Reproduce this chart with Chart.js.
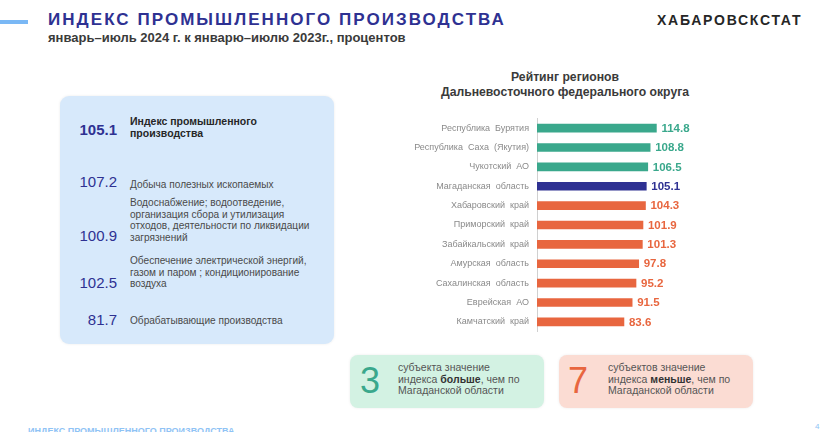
<!DOCTYPE html>
<html>
<head>
<meta charset="utf-8">
<script src="https://cdn.jsdelivr.net/npm/chart.js@4"></script>
<style>
  body { margin: 0; width: 832px; height: 432px; background: #fff; position: relative; overflow: hidden; font-family: "Liberation Sans", Arial, sans-serif; }
  .abs { position: absolute; white-space: nowrap; }
  .bar { left: 0; top: 20px; width: 28px; height: 4px; background: #7ab8f5; }
  .title { left: 48px; top: 10px; font-size: 17px; font-weight: bold; color: #2e3192; letter-spacing: 2.05px; }
  .subtitle { left: 48px; top: 30px; font-size: 13px; font-weight: bold; color: #3a3a3a; }
  .brand { left: 657px; top: 12px; font-size: 14px; font-weight: bold; color: #262626; letter-spacing: 1.75px; }
  .chartTitle { left: 400px; width: 330px; text-align: center; font-size: 12.2px; font-weight: bold; color: #3a3a3a; }
  .panel { left: 60px; top: 96px; width: 274px; height: 248px; background: #d7e9fb; border-radius: 9px; box-shadow: 0 0 3px rgba(0,0,0,0.08); }
  .num { width: 60px; left: 57px; text-align: right; font-size: 15px; color: #2e3192; }
  .desc { left: 130px; font-size: 10.1px; color: #4a4a4a; line-height: 11.7px; }
  .box { top: 355px; width: 194px; height: 53px; border-radius: 8px; box-shadow: 0 0 3px rgba(0,0,0,0.08); }
  .big { font-size: 36px; top: 360px; }
  .boxText { top: 362px; font-size: 10.5px; color: #555; line-height: 11.7px; }
  .footer { left: 28px; top: 426px; font-size: 9px; font-weight: bold; color: #8fc3f5; }
  #chartBox { position: absolute; left: 400px; top: 105px; width: 345px; height: 240px; }
</style>
</head>
<body>
<div class="abs bar"></div>
<div class="abs title">ИНДЕКС ПРОМЫШЛЕННОГО ПРОИЗВОДСТВА</div>
<div class="abs subtitle">январь–июль 2024 г. к январю–июлю 2023г., процентов</div>
<div class="abs brand">ХАБАРОВСКСТАТ</div>

<div class="abs chartTitle" style="top:70px">Рейтинг регионов</div>
<div class="abs chartTitle" style="top:85px">Дальневосточного федерального округа</div>

<div class="abs panel"></div>
<div class="abs num" style="top:121px;font-weight:bold">105.1</div>
<div class="abs desc" style="top:116px;font-weight:bold;color:#262626;font-size:10.5px">Индекс промышленного<br>производства</div>
<div class="abs num" style="top:173px">107.2</div>
<div class="abs desc" style="top:179px">Добыча полезных ископаемых</div>
<div class="abs num" style="top:227px">100.9</div>
<div class="abs desc" style="top:197px">Водоснабжение; водоотведение,<br>организация сбора и утилизация<br>отходов, деятельности по ликвидации<br>загрязнений</div>
<div class="abs num" style="top:274px">102.5</div>
<div class="abs desc" style="top:255px">Обеспечение электрической энергий,<br>газом и паром ; кондиционирование<br>воздуха</div>
<div class="abs num" style="top:311px">81.7</div>
<div class="abs desc" style="top:315px">Обрабатывающие производства</div>

<div id="chartBox"><canvas id="ratingChart"></canvas></div>

<div class="abs box" style="left:350px;background:#d3f2e3"></div>
<div class="abs big" style="left:360px;color:#3aa88c">3</div>
<div class="abs boxText" style="left:398px">субъекта значение<br>индекса <b style="color:#333">больше</b>, чем по<br>Магаданской области</div>
<div class="abs box" style="left:559px;background:#fbdcd3"></div>
<div class="abs big" style="left:568px;color:#e8663f">7</div>
<div class="abs boxText" style="left:608px">субъектов значение<br>индекса <b style="color:#333">меньше</b>, чем по<br>Магаданской области</div>

<div class="abs footer">ИНДЕКС ПРОМЫШЛЕННОГО ПРОИЗВОДСТВА</div>
<div class="abs" style="left:815px;top:422px;font-size:8px;color:#8fc3f5">4</div>

<script>
// Данные рейтинга
const regions = ['Республика  Бурятия', 'Республика  Саха  (Якутия)', 'Чукотский  АО', 'Магаданская  область', 'Хабаровский  край',
    'Приморский  край', 'Забайкальский  край', 'Амурская  область', 'Сахалинская  область', 'Еврейская  АО', 'Камчатский  край'];
const values = [114.8, 108.8, 106.5, 105.1, 104.3, 101.9, 101.3, 97.8, 95.2, 91.5, 83.6];
const magadanIndex = 3;

const teal = '#3aa88c';
const navy = '#2e3192';
const orange = '#e8663f';
const barColors = values.map((v, i) => i < magadanIndex ? teal : (i === magadanIndex ? navy : orange));

// Подписи значений справа от столбцов
const valueLabels = {
    id: 'valueLabels',
    afterDatasetsDraw(chart) {
        const ctx = chart.ctx;
        const meta = chart.getDatasetMeta(0);
        ctx.save();
        ctx.font = 'bold 11.5px "Liberation Sans", Arial';
        ctx.textBaseline = 'middle';
        ctx.textAlign = 'left';
        meta.data.forEach((bar, i) => {
            ctx.fillStyle = barColors[i];
            ctx.fillText(values[i].toFixed(1), bar.x + 5, bar.y + 0.5);
        });
        ctx.restore();
    }
};

const ctx = document.getElementById('ratingChart').getContext('2d');
new Chart(ctx, {
    type: 'bar',
    data: {
        labels: regions,
        datasets: [{
            data: values,
            backgroundColor: barColors,
            barThickness: 8
        }]
    },
    options: {
        indexAxis: 'y',
        responsive: true,
        maintainAspectRatio: false,
        animation: false,
        layout: { padding: { top: 11, bottom: 12, left: 0, right: 0 } },
        plugins: { legend: { display: false }, tooltip: { enabled: false } },
        scales: {
            x: { display: false, min: 0, max: 200 },
            y: {
                afterFit(scale) { scale.width = 137; },
                grid: { display: false, drawTicks: false },
                border: { display: true, color: '#d0d0d0' },
                ticks: { padding: 8, color: '#8a8a8a', font: { size: 9, family: '"Liberation Sans", Arial' } }
            }
        }
    },
    plugins: [valueLabels]
});
</script>
</body>
</html>
